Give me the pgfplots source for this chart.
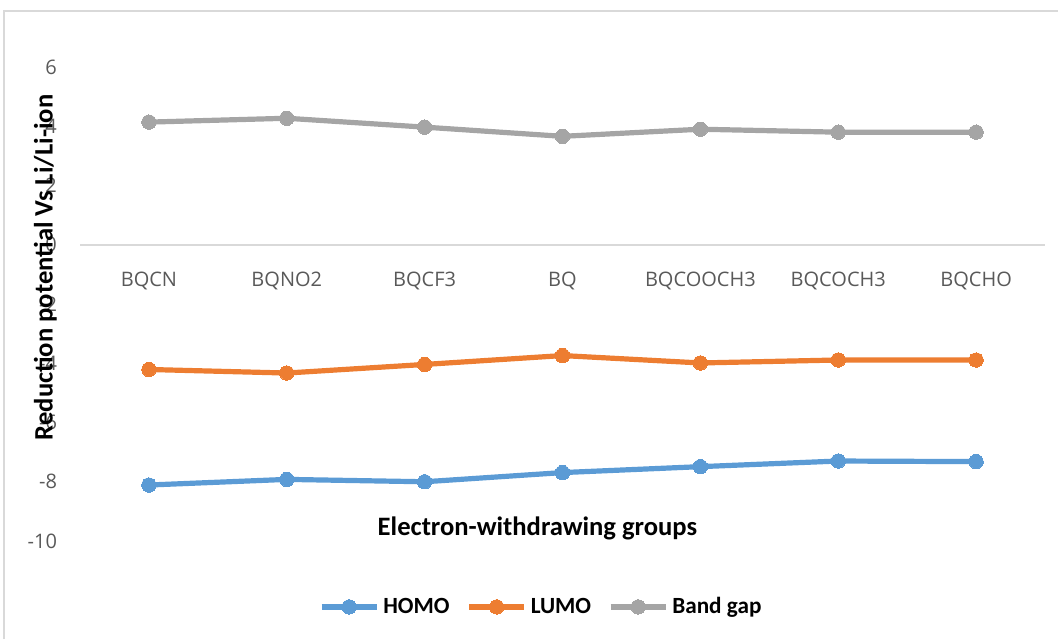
\documentclass[border=0pt]{standalone}
\usepackage{pgfplots}
\pgfplotsset{compat=1.18}
\usepackage{fontspec}
\setmainfont{Carlito}
\newfontfamily\tickfont{Open Sans}
\definecolor{homo}{HTML}{5B9BD5}
\definecolor{lumo}{HTML}{ED7D31}
\definecolor{gap}{HTML}{A5A5A5}
\definecolor{ticktxt}{HTML}{595959}
\definecolor{frame}{HTML}{D9D9D9}
\begin{document}
\begin{tikzpicture}
\useasboundingbox (-40pt,-49pt) rectangle (489pt,270.5pt);
\draw[frame, line width=0.75pt] (-38pt,-49pt) -- (-38pt,265pt) -- (489pt,265pt);
\begin{axis}[
  at={(0,0)}, anchor=south west,
  scale only axis, width=482.5pt, height=237pt,
  xmin=-0.5, xmax=6.5, ymin=-10, ymax=6,
  axis x line*=middle, axis y line*=left,
  x axis line style={draw=frame, line width=0.75pt},
  y axis line style={draw=none},
  xtick={0,...,6},
  xticklabels={BQCN,BQNO2,BQCF3,BQ,BQCOOCH3,BQCOCH3,BQCHO},
  ytick={-10,-8,...,6},
  major tick length=0pt,
  tick style={draw=none},
  xticklabel style={font=\tickfont\fontsize{10}{12}\selectfont, text=ticktxt, anchor=north, yshift=-10pt},
  yticklabel style={font=\tickfont\fontsize{10}{12}\selectfont, text=ticktxt, anchor=east, xshift=-8pt},
  /pgf/number format/assume math mode=true,
  clip=false,
  xlabel={Electron-withdrawing groups},
  xlabel style={font=\bfseries\fontsize{13.3}{15}\selectfont, at={(axis description cs:0.474,0.027)}, anchor=center},
  ylabel={Reduction potential Vs Li/Li-ion},
  ylabel style={font=\bfseries\fontsize{13.3}{15}\selectfont, at={(axis description cs:-0.036,0.577)}, anchor=center, rotate=0},
  legend style={at={(axis description cs:0.479,-0.139)}, anchor=center, draw=none, fill=none,
    font=\bfseries\fontsize{11.6}{13}\selectfont, legend columns=3,
    /tikz/every even column/.append style={column sep=6.5pt}},
  legend image code/.code={
    \draw[#1, mark=none] (0pt,0pt) -- (27.5pt,0pt);
    \draw[#1, only marks] plot coordinates {(13.75pt,0pt)};
  },
  every axis plot/.append style={line width=2.6pt, mark=*, mark size=3.6pt},
]
\addplot[color=homo, mark options={fill=homo, draw=homo, line width=0pt}] coordinates {
(0,-8.11) (1,-7.92) (2,-8.00) (3,-7.69) (4,-7.49) (5,-7.30) (6,-7.32)};
\addlegendentry{HOMO}
\addplot[color=lumo, mark options={fill=lumo, draw=lumo, line width=0pt}] coordinates {
(0,-4.21) (1,-4.33) (2,-4.04) (3,-3.74) (4,-3.99) (5,-3.89) (6,-3.89)};
\addlegendentry{LUMO}
\addplot[color=gap, mark options={fill=gap, draw=gap, line width=0pt}] coordinates {
(0,4.14) (1,4.27) (2,3.97) (3,3.66) (4,3.90) (5,3.80) (6,3.80)};
\addlegendentry{Band gap}
\end{axis}
\end{tikzpicture}
\end{document}
